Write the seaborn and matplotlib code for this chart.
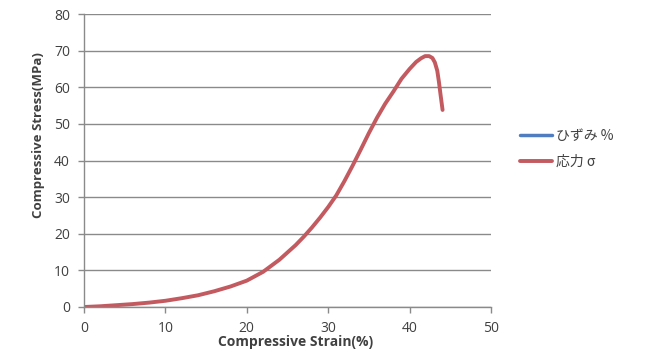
import matplotlib
matplotlib.use("Agg")
import matplotlib.pyplot as plt
import seaborn as sns
import pandas as pd

strain = [0, 2, 4, 6, 8, 10, 12, 14, 16, 18, 20, 22, 24, 26, 27, 28, 29, 30, 31, 32,
          33, 34, 35, 36, 37, 38, 39, 40.0, 40.8, 41.4, 41.9, 42.4, 42.8,
          43.1, 43.4, 43.6, 43.8, 44.05]
stress = [0, 0.2, 0.5, 0.8, 1.2, 1.7, 2.4, 3.2, 4.3, 5.6, 7.2, 9.6, 12.9, 16.9, 19.2, 21.7, 24.4, 27.3, 30.5, 34.4,
          38.6, 43.0, 47.5, 51.7, 55.5, 58.8, 62.3, 65.0, 66.9, 67.9, 68.5, 68.5, 68.0,
          66.8, 64.5, 61.5, 58.0, 53.8]
legend_labels = ["ひずみ %", "応力 σ"]
x_ticks = [0, 10, 20, 30, 40, 50]
y_ticks = [0, 10, 20, 30, 40, 50, 60, 70, 80]

sns.set_theme(style="white")
plt.rcParams['font.family'] = ['Open Sans', 'Noto Sans CJK JP', 'DejaVu Sans']

fig = plt.figure(figsize=(6.52, 3.55), dpi=100)
ax = fig.add_axes([84/652, 1-307/355, (491-84)/652, (307-14)/355])

df = pd.DataFrame({"strain": strain, "stress": stress})
ax.plot([], [], color="#4F7DC0", lw=2.5, label=legend_labels[0])
sns.lineplot(data=df, x="strain", y="stress", color="#C25A60", lw=2.8, ax=ax,
             label=legend_labels[1], sort=False)
ax.lines[-1].set_solid_joinstyle("round")
ax.lines[-1].set_solid_capstyle("round")

ax.set_xlim(0, 50)
ax.set_ylim(0, 80)
ax.set_xticks(x_ticks)
ax.set_yticks(y_ticks)
ax.yaxis.grid(True, color="#8a8a8a", lw=1)
ax.xaxis.grid(False)
for s in ["top", "right"]:
    ax.spines[s].set_visible(False)
for s in ["left", "bottom"]:
    ax.spines[s].set_color("#8a8a8a")
    ax.spines[s].set_linewidth(1)
ax.tick_params(axis="both", which="major", direction="out", length=4, width=1,
               color="#8a8a8a", labelsize=10, labelcolor="#404040", pad=6,
               bottom=True, left=True)
ax.set_xlabel("Compressive Strain(%)", fontsize=10, fontweight="bold", color="#404040")
ax.set_ylabel("Compressive Stress(MPa)", fontsize=9.5, fontweight="bold", color="#404040")
ax.xaxis.set_label_coords(0.521, -0.095)
ax.yaxis.set_label_coords(-0.097, 0.587)

leg = ax.legend(loc="center left", bbox_to_anchor=(1.04, 0.54), frameon=False,
                handlelength=2.3, labelspacing=0.85, handletextpad=0.3,
                prop={'family': ['Noto Sans CJK JP', 'DejaVu Sans'], 'size': 10})
for t in leg.get_texts():
    t.set_color("#404040")

fig.savefig("out.png", dpi=100)
